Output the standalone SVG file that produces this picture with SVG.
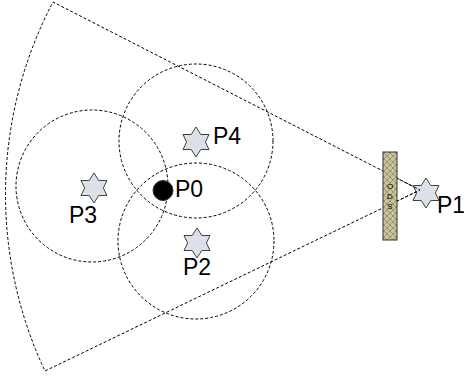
<svg xmlns="http://www.w3.org/2000/svg" width="464" height="376" viewBox="0 0 464 376">
<style>
.d{fill:none;stroke:#000;stroke-width:1;stroke-dasharray:3,2}
.star{fill:#dce0e8;stroke:#404040;stroke-width:1}
.t{font-family:"Liberation Sans",Arial,sans-serif;font-size:23px;fill:#000}
.s{font-family:"Liberation Sans",Arial,sans-serif;font-size:8px;fill:#000;text-anchor:middle}
</style>
<defs>
<path id="star6" d="M0,-15 L4.8,-7.5 L13,-7.5 L9.4,0 L13,7.5 L4.8,7.5 L0,15 L-4.8,7.5 L-13,7.5 L-9.4,0 L-13,-7.5 L-4.8,-7.5 Z"/>
<pattern id="hatch" width="6" height="6" patternUnits="userSpaceOnUse">
<rect width="6" height="6" fill="#c9c59c"/>
<path d="M0,3 L3,0 L6,3 L3,6 Z" fill="none" stroke="#8c8860" stroke-width="0.8"/>
</pattern>
</defs>
<g id="sector">
<path class="d" d="M420,190 L53,2 A414,414 0 0 0 45,371 Z"/>
</g>
<g id="circles">
<circle class="d" cx="196" cy="141" r="77"/>
<circle class="d" cx="92" cy="186" r="76"/>
<circle class="d" cx="196" cy="241" r="78"/>
</g>
<g id="P4"><use href="#star6" class="star" x="196" y="142"/><text class="t" x="213" y="144">P4</text></g>
<g id="P3"><use href="#star6" class="star" x="94" y="188"/><text class="t" x="69" y="223">P3</text></g>
<g id="P2"><use href="#star6" class="star" x="197" y="243"/><text class="t" x="183" y="275">P2</text></g>
<g id="P0"><circle cx="163" cy="190.5" r="10" fill="#000" stroke="#333" stroke-width="1"/><text class="t" x="175" y="197">P0</text></g>
<g id="P1"><use href="#star6" class="star" x="426" y="193"/><text class="t" x="437" y="213">P1</text></g>
<g id="lines">
<path class="d" d="M383,171 L420,190 L383,208"/>
</g>
<g id="ODS">
<rect x="383" y="152" width="14" height="88" fill="url(#hatch)" stroke="#333" stroke-width="1"/>
<text class="s" x="390" y="189">O</text>
<text class="s" x="390" y="199">D</text>
<text class="s" x="390" y="209">S</text>
</g>
</svg>
